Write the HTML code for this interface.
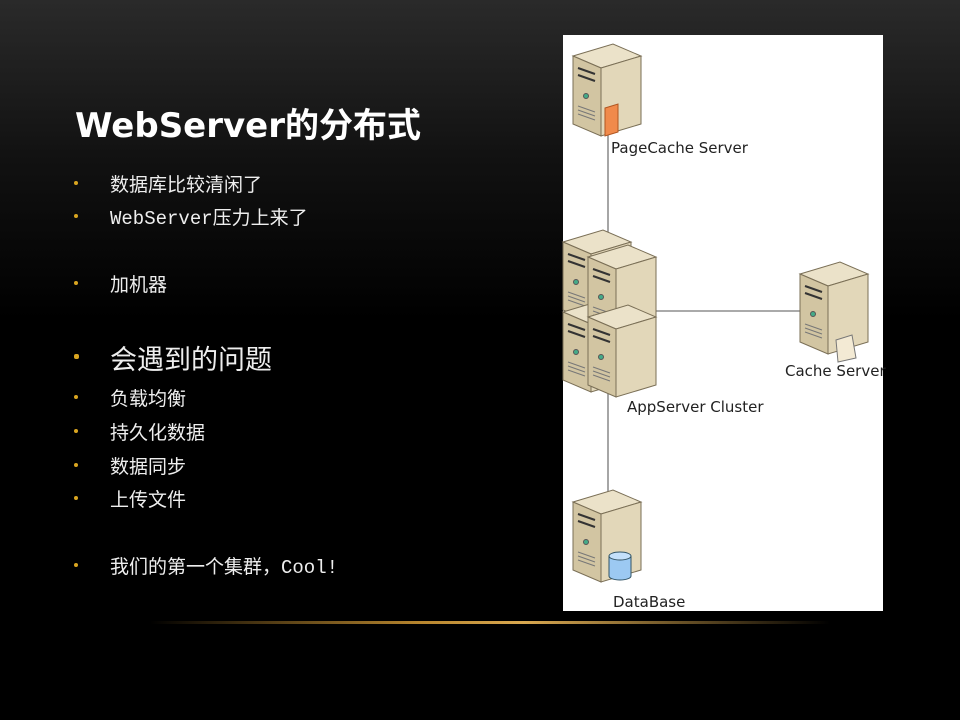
<!DOCTYPE html>
<html><head><meta charset="utf-8"><style>
body{margin:0;width:960px;height:720px;overflow:hidden;background:linear-gradient(#2a2a2a 0px,#111 160px,#000 320px,#000 720px);font-family:"Liberation Sans","Noto Sans CJK SC",sans-serif;color:#fff;position:relative}
.t{position:absolute;left:75px;top:98px;font-size:34px;font-weight:bold;font-family:"DejaVu Sans","Noto Sans CJK SC",sans-serif}
.li{position:absolute;left:110px;font-size:19px;color:#eee}
.li:before{content:"";position:absolute;left:-36px;top:11px;width:4px;height:4px;background:#d9a520;border-radius:2px}
.big{font-size:27px}
.big:before{top:16px;width:5px;height:5px}
.panel{position:absolute;left:563px;top:35px;width:320px;height:576px;background:#fff}
.gold{position:absolute;left:150px;top:621px;width:680px;height:3px;background:linear-gradient(90deg,transparent,#b8862e 40%,#d9a850 55%,transparent)}
.lab{position:absolute;color:#222;font-size:15px;font-family:"DejaVu Sans",sans-serif}
</style></head><body>
<div class="t">WebServer的分布式</div>
<div class="li" style="top:170px">数据库比较清闲了</div>
<div class="li" style="top:203px;font-family:'Liberation Mono','Noto Sans CJK SC',monospace">WebServer压力上来了</div>
<div class="li" style="top:270px">加机器</div>
<div class="li big" style="top:338px">会遇到的问题</div>
<div class="li" style="top:384px">负载均衡</div>
<div class="li" style="top:418px">持久化数据</div>
<div class="li" style="top:452px">数据同步</div>
<div class="li" style="top:485px">上传文件</div>
<div class="li" style="top:552px;font-family:'Liberation Mono','Noto Sans CJK SC',monospace">我们的第一个集群，Cool!</div>
<div class="panel"></div>
<svg style="position:absolute;left:0;top:0" width="960" height="720">
<defs>
<g id="srv">
<polygon points="0,12 40,0 68,12 28,24" fill="#ebe2c9" stroke="#7a6f56" stroke-width="1"/>
<polygon points="0,12 28,24 28,92 0,80" fill="#d2c5a2" stroke="#7a6f56" stroke-width="1"/>
<polygon points="28,24 68,12 68,80 28,92" fill="#e2d7b9" stroke="#7a6f56" stroke-width="1"/>
<line x1="5" y1="24" x2="22" y2="30" stroke="#333" stroke-width="2"/>
<line x1="5" y1="31" x2="22" y2="37" stroke="#333" stroke-width="2"/>
<circle cx="13" cy="52" r="2.5" fill="#4a8" stroke="#555"/>
<line x1="5" y1="62" x2="22" y2="68" stroke="#777"/>
<line x1="5" y1="66" x2="22" y2="72" stroke="#777"/>
<line x1="5" y1="70" x2="22" y2="76" stroke="#777"/>
</g>
</defs>
<g stroke="#777" stroke-width="1.3">
<line x1="608" y1="135" x2="608" y2="235"/>
<line x1="650" y1="311" x2="805" y2="311"/>
<line x1="608" y1="390" x2="608" y2="500"/>
</g>
<use href="#srv" x="573" y="44"/>
<polygon points="605,108 618,104 618,132 605,136" fill="#f08a4b" stroke="#b05520"/>
<use href="#srv" x="563" y="230"/>
<use href="#srv" x="563" y="300"/>
<use href="#srv" x="588" y="245"/>
<use href="#srv" x="588" y="305"/>
<use href="#srv" x="800" y="262"/>
<polygon points="836,340 852,335 856,358 838,362" fill="#f3ead4" stroke="#777"/>
<use href="#srv" x="573" y="490"/>
<path d="M609,556 v20 a11,4 0 0 0 22,0 v-20" fill="#9cc9f2" stroke="#356"/>
<ellipse cx="620" cy="556" rx="11" ry="4" fill="#c4e0fa" stroke="#356"/>
</svg>
<div class="lab" style="left:611px;top:139px">PageCache Server</div>
<div class="lab" style="left:785px;top:362px">Cache Server</div>
<div class="lab" style="left:627px;top:398px">AppServer Cluster</div>
<div class="lab" style="left:613px;top:593px">DataBase</div>
<div class="gold"></div>
</body></html>
